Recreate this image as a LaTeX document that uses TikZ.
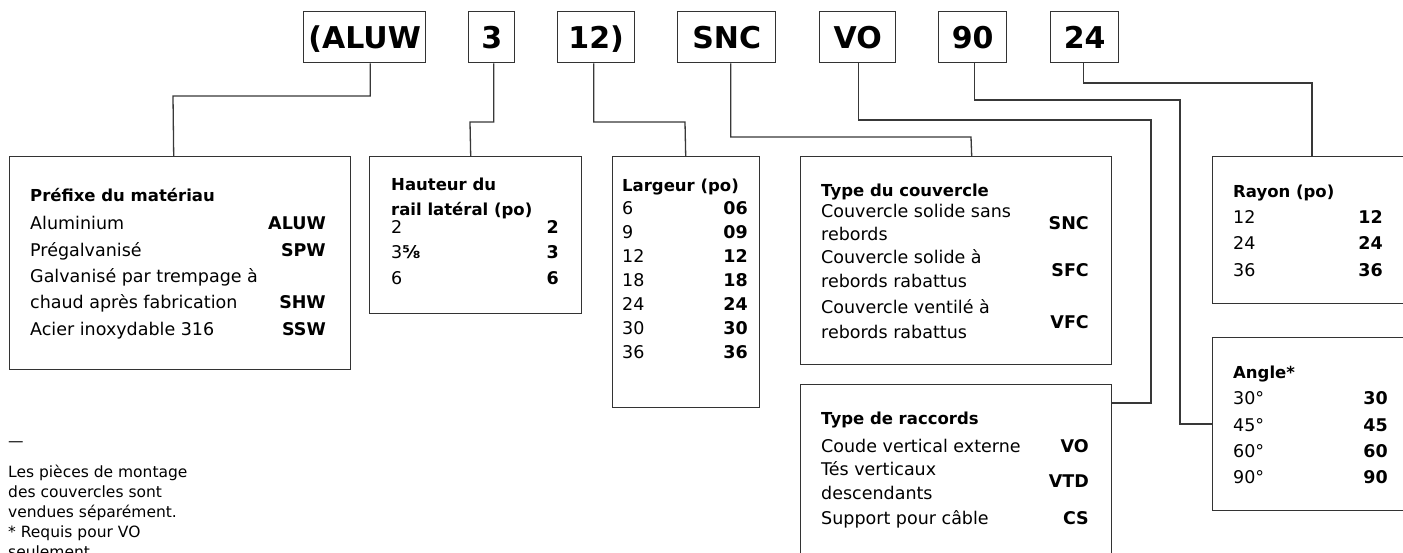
\documentclass[tikz,border=0pt]{standalone}
\usepackage{fontspec}
\setmainfont{DejaVu Sans}
\begin{document}
\begin{tikzpicture}[x=1pt,y=-1pt,
  wire/.style={draw=black!78, line width=1.3pt},
  frame/.style={draw=black!80, line width=1.4pt, inner sep=0pt, anchor=north west},
  keybox/.style={draw=black!80, line width=1.4pt, inner sep=0pt, anchor=north west,
    minimum height=51pt, text height=22pt, text depth=0pt,
    font=\fontsize{30}{30}\selectfont\bfseries},
  txt/.style={font=\fontsize{17.5}{21}\selectfont, anchor=base west, inner sep=0pt},
  ttl/.style={font=\fontsize{16.5}{21}\selectfont\bfseries, anchor=base west, inner sep=0pt},
  val/.style={font=\fontsize{17.5}{21}\selectfont\bfseries, anchor=base east, inner sep=0pt},
  note/.style={font=\fontsize{15.5}{20}\selectfont, anchor=base west, inner sep=0pt},
]
\useasboundingbox (0,0) rectangle (1403,552);
\fill[white] (0,0) rectangle (1403,552);

% ---- catalogue number segments ----
\node[keybox, minimum width=122pt] (tA) at (303,11) {(ALUW};
\node[keybox, minimum width=46pt]  (tB) at (468,11) {3};
\node[keybox, minimum width=77pt]  (tC) at (557,11) {12)};
\node[keybox, minimum width=98pt]  (tD) at (677,11) {SNC};
\node[keybox, minimum width=76pt]  (tE) at (819,11) {VO};
\node[keybox, minimum width=68pt]  (tF) at (938,11) {90};
\node[keybox, minimum width=68pt]  (tG) at (1050,11) {24};

% ---- option tables ----
\node[frame, minimum width=341pt, minimum height=213pt] (pref)  at (9,156) {};
\node[frame, minimum width=212pt, minimum height=157pt] (haut)  at (369,156) {};
\node[frame, minimum width=147pt, minimum height=251pt] (larg)  at (612,156) {};
\node[frame, minimum width=311pt, minimum height=208pt] (couv)  at (800,156) {};
\node[frame, minimum width=311pt, minimum height=216pt] (racc)  at (800,384) {};
\node[frame, minimum width=218pt, minimum height=147pt] (rayon) at (1212,156) {};
\node[frame, minimum width=218pt, minimum height=173pt] (angle) at (1212,337) {};

% ---- connectors ----
\draw[wire] ([xshift=5.5pt]tA.south) |- (173,96) -- ([xshift=-6.5pt]pref.north);
\draw[wire] ([xshift=2pt]tB.south) |- (470,122) -- ([xshift=-5pt]haut.north);
\draw[wire] ([xshift=-2.5pt]tC.south) |- (685,122) -- ([xshift=-0.5pt]larg.north);
\draw[wire] ([xshift=4pt]tD.south) |- (971,137) -- ([xshift=15.5pt]couv.north);
\draw[wire] ([xshift=1pt]tE.south) |- (1151,120) |- ([yshift=-19pt]racc.north east);
\draw[wire] ([xshift=2pt]tF.south) |- (1180,100) |- ([yshift=-87pt]angle.north west);
\draw[wire] ([xshift=-1pt]tG.south) |- (1312,83) -- ([xshift=100pt]rayon.north west);

% ---- Préfixe du matériau ----
\node[ttl] (p0) at (30,201) {Préfixe du matériau};
\node[txt] (p1) at (30,229) {Aluminium};           \node[val] (p1v) at (326,229) {ALUW};
\node[txt] (p2) at (30,256) {Prégalvanisé};        \node[val] (p2v) at (326,256) {SPW};
\node[txt] (p3) at (30,282.5) {Galvanisé par trempage à};
\node[txt] (p4) at (30,308.5) {chaud après fabrication}; \node[val] (p4v) at (326,308.5) {SHW};
\node[txt] (p5) at (30,335) {Acier inoxydable 316}; \node[val] (p5v) at (326,335) {SSW};

% ---- Hauteur du rail latéral ----
\node[ttl] (h0) at (391,190) {Hauteur du};
\node[ttl] (h1) at (391,215) {rail latéral (po)};
\node[txt] (h2) at (391,233) {2};             \node[val] (h2v) at (559,233) {2};
\node[txt] (h3) at (391,258.5) {3\textbf{⅝}}; \node[val] (h3v) at (559,258.5) {3};
\node[txt] (h4) at (391,284) {6};             \node[val] (h4v) at (559,284) {6};

% ---- Largeur ----
\node[ttl] (l0) at (622,191) {Largeur (po)};
\foreach \a/\b [count=\i] in {6/06,9/09,12/12,18/18,24/24,30/30,36/36}{
  \node[txt] (l\i) at (622,190+24*\i) {\a};
  \node[val] (l\i v) at (748,190+24*\i) {\b};
}

% ---- Type du couvercle ----
\node[ttl] (c0) at (821,196) {Type du couvercle};
\node[txt] (c1) at (821,217) {Couvercle solide sans};
\node[txt] (c2) at (821,240) {rebords};            \node[val] (c2v) at (1089,229) {SNC};
\node[txt] (c3) at (821,263) {Couvercle solide à};
\node[txt] (c4) at (821,287) {rebords rabattus};   \node[val] (c4v) at (1089,276) {SFC};
\node[txt] (c5) at (821,313) {Couvercle ventilé à};
\node[txt] (c6) at (821,338) {rebords rabattus};   \node[val] (c6v) at (1089,328) {VFC};

% ---- Type de raccords ----
\node[ttl] (r0) at (821,424) {Type de raccords};
\node[txt] (r1) at (821,452) {Coude vertical externe}; \node[val] (r1v) at (1089,452) {VO};
\node[txt] (r2) at (821,475) {Tés verticaux};
\node[txt] (r3) at (821,499) {descendants};            \node[val] (r3v) at (1089,487) {VTD};
\node[txt] (r4) at (821,524) {Support pour câble};     \node[val] (r4v) at (1089,524) {CS};

% ---- Rayon ----
\node[ttl] (y0) at (1233,197) {Rayon (po)};
\node[txt] (y1) at (1233,223) {12}; \node[val] (y1v) at (1383,223) {12};
\node[txt] (y2) at (1233,249) {24}; \node[val] (y2v) at (1383,249) {24};
\node[txt] (y3) at (1233,276) {36}; \node[val] (y3v) at (1383,276) {36};

% ---- Angle ----
\node[ttl] (a0) at (1233,378) {Angle*};
\node[txt] (a1) at (1233,404) {30°}; \node[val] (a1v) at (1388,404) {30};
\node[txt] (a2) at (1233,431) {45°}; \node[val] (a2v) at (1388,431) {45};
\node[txt] (a3) at (1233,457) {60°}; \node[val] (a3v) at (1388,457) {60};
\node[txt] (a4) at (1233,483) {90°}; \node[val] (a4v) at (1388,483) {90};

% ---- footnote ----
\node[note] (n0) at (8,446.5) {—};
\node[note] (n1) at (8,477) {Les pièces de montage};
\node[note] (n2) at (8,497) {des couvercles sont};
\node[note] (n3) at (8,517) {vendues séparément.};
\node[note] (n4) at (8,537) {* Requis pour VO};
\node[note] (n5) at (8,557) {seulement};
\end{tikzpicture}
\end{document}
